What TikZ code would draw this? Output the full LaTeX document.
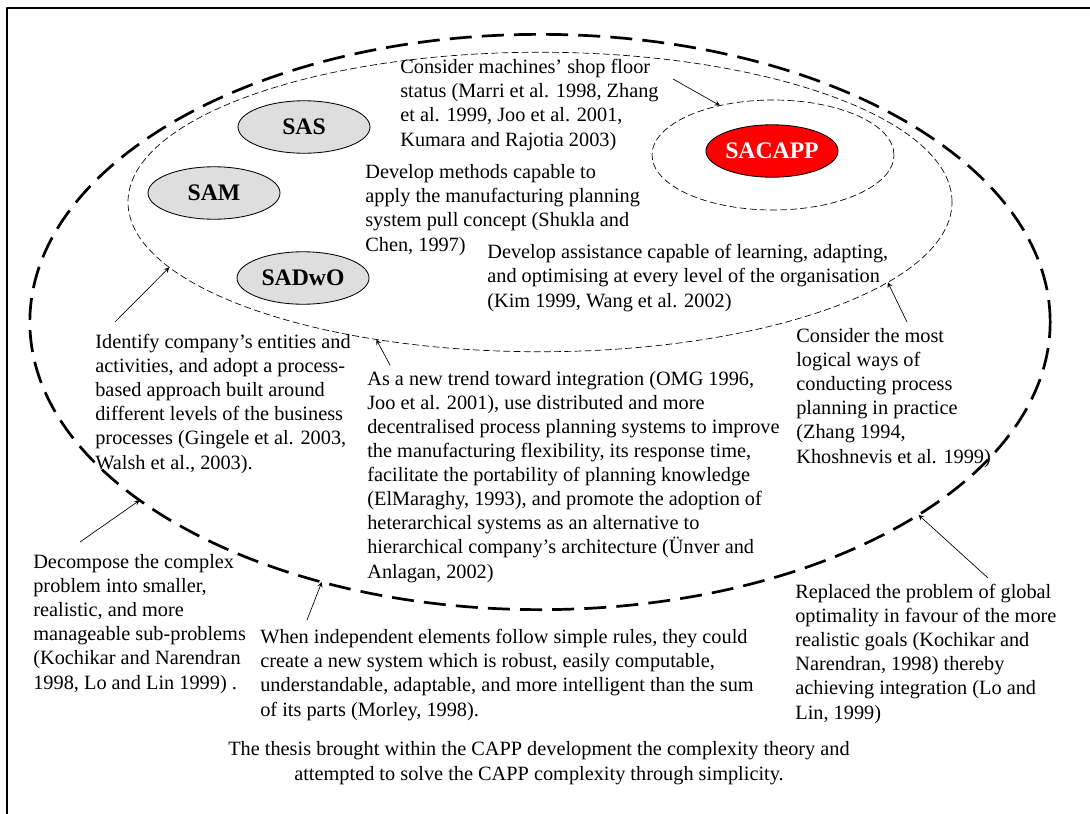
\documentclass[tikz,border=0pt]{standalone}
\usepackage{fontspec}
\setmainfont{Liberation Serif}
\usetikzlibrary{shapes.geometric}
\definecolor{agentgray}{RGB}{222,222,222}
\definecolor{agentred}{RGB}{255,0,0}
\tikzset{
	agent/.style={ellipse, draw, line width=0.5pt, fill=agentgray, minimum width=78pt, minimum height=31pt, inner sep=0pt, font=\fontsize{14}{16}\selectfont\bfseries},
	ring/.style={ellipse, draw, inner sep=0pt, outer sep=0pt},
	note/.style={anchor=base west, align=left, inner sep=0pt, font=\fontsize{12}{14.2}\selectfont},
	pointer/.style={->, line width=0.4pt},
}
\begin{document}
\begin{tikzpicture}[x=0.591pt, y=-0.591pt, >=stealth, line join=round]
	\useasboundingbox (0,0) rectangle (1090,814);
	% frame
	\draw[line width=1.5pt] (7,814) -- (7,8) -- (1090,8);
	% rings
	\node[ring, line width=1.6pt, dash pattern=on 13pt off 6pt, minimum width=603pt, minimum height=340pt] (outer) at (540,322) {};
	\node[ring, line width=0.4pt, dash pattern=on 4pt off 2pt, minimum width=487pt, minimum height=177pt] (inner) at (540,202) {};
	\node[ring, line width=0.4pt, dash pattern=on 4pt off 2pt, minimum width=143pt, minimum height=65pt] (core) at (773,155) {};
	% agents
	\node[agent] (sas) at (304,127) {SAS};
	\node[agent] (sam) at (214,193) {SAM};
	\node[agent] (sadwo) at (303,278) {SADwO};
	\node[agent, fill=agentred, text=white] (sacapp) at (772,151) {SACAPP};
	% notes (placed at the baseline of their last line)
	\node[note] (machines) at (400,146) {Consider machines' shop floor\\status (Marri et al. 1998, Zhang\\et al. 1999, Joo et al. 2001,\\Kumara and Rajotia 2003)};
	\node[note] (pull) at (365,251) {Develop methods capable to\\apply the manufacturing planning\\system pull concept (Shukla and\\Chen, 1997)};
	\node[note] (assist) at (487,307) {Develop assistance capable of learning, adapting,\\and optimising at every level of the organisation\\(Kim 1999, Wang et al. 2002)};
	\node[note] (ident) at (95,469) {Identify company's entities and\\activities, and adopt a process-\\based approach built around\\different levels of the business\\processes (Gingele et al. 2003,\\Walsh et al., 2003).};
	\node[note] (trend) at (367,578) {As a new trend toward integration (OMG 1996,\\Joo et al. 2001), use distributed and more\\decentralised process planning systems to improve\\the manufacturing flexibility, its response time,\\facilitate the portability of planning knowledge\\(ElMaraghy, 1993), and promote the adoption of\\heterarchical systems as an alternative to\\hierarchical company's architecture (Ünver and\\Anlagan, 2002)};
	\node[note] (logic) at (796,463) {Consider the most\\logical ways of\\conducting process\\planning in practice\\(Zhang 1994,\\Khoshnevis et al. 1999)};
	\node[note] (decomp) at (33,689) {Decompose the complex\\problem into smaller,\\realistic, and more\\manageable sub-problems\\(Kochikar and Narendran\\1998, Lo and Lin 1999) .};
	\node[note] (indep) at (260,716) {When independent elements follow simple rules, they could\\create a new system which is robust, easily computable,\\understandable, adaptable, and more intelligent than the sum\\of its parts (Morley, 1998).};
	\node[note] (replaced) at (795,719) {Replaced the problem of global\\optimality in favour of the more\\realistic goals (Kochikar and\\Narendran, 1998) thereby\\achieving integration (Lo and\\Lin, 1999)};
	\node[note, anchor=base, align=center] (thesis) at (539,780) {The thesis brought within the CAPP development the complexity theory and\\attempted to solve the CAPP complexity through simplicity.};
	% pointers
	\coordinate (p1) at (673,79);
	\coordinate (p2) at (115,322);
	\coordinate (p3) at (390,365);
	\coordinate (p4) at (907,322);
	\coordinate (p5) at (80,542);
	\coordinate (p6) at (307,620);
	\coordinate (p7) at (988,578);
	\draw[pointer] (p1) -- (core.137);
	\draw[pointer] (p2) -- (inner.190.6);
	\draw[pointer] (p3) -- (inner.220.3);
	\draw[pointer] (p4) -- (inner.347.7);
	\draw[pointer] (p5) -- (outer.204.8);
	\draw[pointer] (p6) -- (outer.230.7);
	\draw[pointer] (p7) -- (outer.333.5);
\end{tikzpicture}
\end{document}
